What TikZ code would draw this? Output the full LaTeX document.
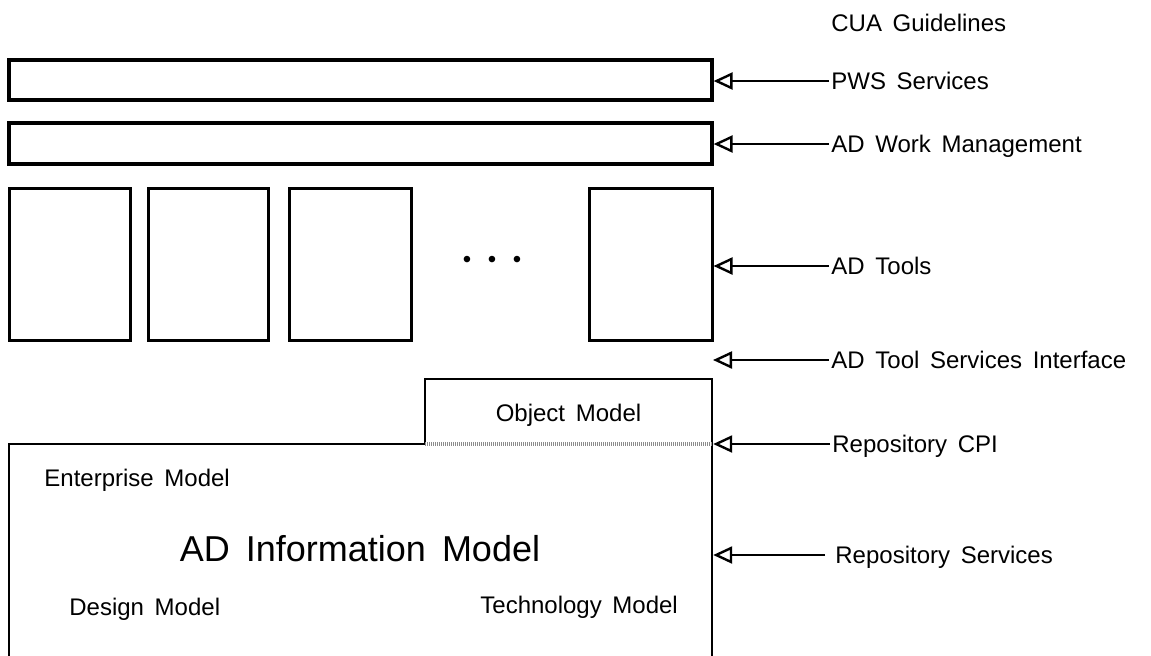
\documentclass[tikz,border=0pt]{standalone}
\usepackage{fontspec}
\setmainfont{Liberation Sans}[WordSpace=1.6]
\usetikzlibrary{arrows.meta, fit}

\begin{document}
\begin{tikzpicture}[
  x=0.5pt, y=-0.5pt,
  font=\fontsize{12}{14}\selectfont,
  layer/.style={rectangle, draw=black, line width=1.6pt, inner sep=0pt},
  toolbox/.style={rectangle, draw=black, line width=1.5pt, inner sep=0pt},
  iface/.style={anchor=west, inner sep=1pt, text height=8.6pt, text depth=0pt},
  model/.style={inner sep=0pt, text height=8.6pt, text depth=0pt},
  repoline/.style={line width=1.2pt, line join=miter},
  cpiline/.style={line width=1.6pt, draw=black!45, dash pattern=on 0.5pt off 0.5pt},
  arrow/.style={line width=1.2pt, -{Triangle[open, length=9.5pt, width=8.5pt]}}
]
\useasboundingbox (0,0) rectangle (1151,655);
% layers above the tools
\node (pws) [layer, fit={(9,60) (712,100)}] {};
\node (work) [layer, fit={(9,123) (712,164)}] {};
% AD tools
\node (tool1) [toolbox, fit={(9,188) (130,340)}] {};
\node (tool2) [toolbox, fit={(148,188) (268,340)}] {};
\node (tool3) [toolbox, fit={(289,188) (411,340)}] {};
\node (toolN) [toolbox, fit={(589,188) (712,340)}] {};
\node (dots) at (492,262) {\textbullet\hspace{8.3pt}\textbullet\hspace{8.3pt}\textbullet};
% repository outline
\coordinate (repoBL) at (9,660);
\coordinate (repoTL) at (9,444);
\coordinate (objBL) at (425,444);
\coordinate (objTL) at (425,379);
\coordinate (objTR) at (712,379);
\coordinate (cpi) at (712,444);
\coordinate (repoBR) at (712,660);
\coordinate (tsi) at (713,360);
\draw [repoline] (repoBL) -- (repoTL) -- (objBL) -- (objTL) -- (objTR) -- (repoBR);
\draw [cpiline] (objBL) -- (cpi);
% models
\node (objmodel) [model] at (568.5,413) {Object Model};
\node (enterprise) [model, anchor=west] at (44,478) {Enterprise Model};
\node (info) [inner sep=0pt, font=\fontsize{18}{22}\selectfont] at (360,549) {AD Information Model};
\node (design) [model, anchor=west] at (69,607) {Design Model};
\node (technology) [model, anchor=west] at (480,605) {Technology Model};
% interface labels
\node (cua) [iface] at (829,23) {CUA Guidelines};
\node (lpws) [iface] at (829,81) {PWS Services};
\node (lwork) [iface] at (829,144) {AD Work Management};
\node (ltools) [iface] at (829,266) {AD Tools};
\node (ltsi) [iface] at (829,360) {AD Tool Services Interface};
\node (lcpi) [iface] at (830,444) {Repository CPI};
\node (lrepo) [iface] at (833,555) {Repository Services};
\draw [arrow] (lpws.west) -- (lpws.west -| pws.east);
\draw [arrow] (lwork.west) -- (lwork.west -| work.east);
\draw [arrow] (ltools.west) -- (ltools.west -| toolN.east);
\draw [arrow] (ltsi.west) -- (tsi);
\draw [arrow] (lcpi.west) -- ([xshift=0.6pt]cpi);
\draw [arrow] ([xshift=-4pt]lrepo.west) -- ([xshift=0.6pt]lrepo.west -| repoBR);
\end{tikzpicture}
\end{document}
